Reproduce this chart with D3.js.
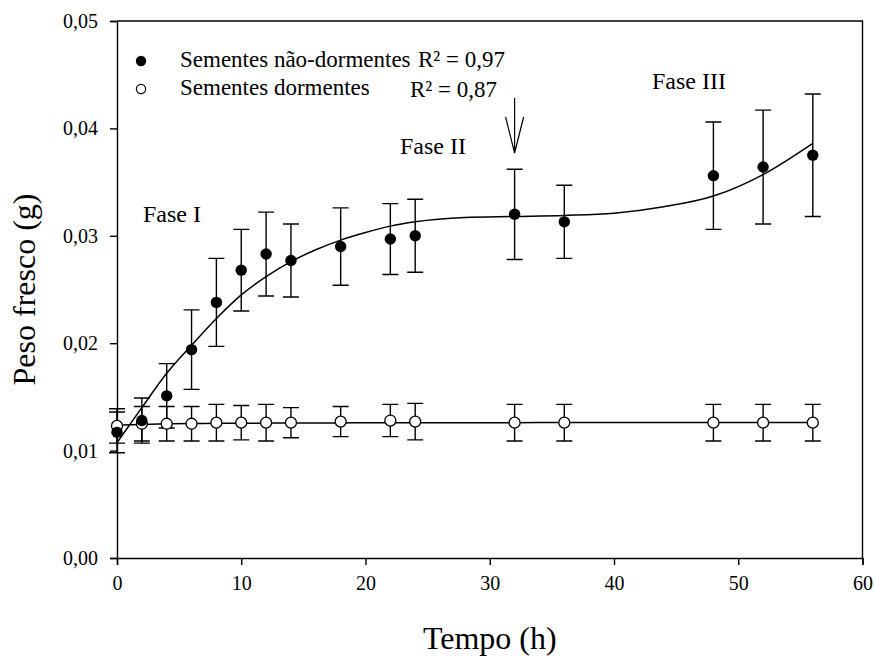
<!DOCTYPE html>
<html>
<head>
<meta charset="utf-8">
<script src="https://cdn.jsdelivr.net/npm/d3@7"></script>
<style>
  html, body { margin: 0; padding: 0; background: #fff; }
  svg text { font-family: "Liberation Serif", "Times New Roman", serif; fill: #000; }
</style>
</head>
<body>
<svg id="chart" width="875" height="657"></svg>
<script>
// Sampling times (h)
const tempo = [0, 2, 4, 6, 8, 10, 12, 14, 18, 22, 24, 32, 36, 48, 52, 56];

// Non-dormant seeds: mean fresh weight (g) and standard deviation
const naoDormentes = [0.0117, 0.0128, 0.0151, 0.0194, 0.0238, 0.0268, 0.0283, 0.0277,
                      0.0290, 0.0297, 0.0300, 0.0320, 0.0313, 0.0356, 0.0364, 0.0375];
const naoDormentesDP = [0.0019, 0.0021, 0.0030, 0.0037, 0.0041, 0.0038, 0.0039, 0.0034,
                        0.0036, 0.0033, 0.0034, 0.0042, 0.0034, 0.0050, 0.0053, 0.0057];

// Dormant seeds: mean fresh weight (g) and standard deviation
const dormentes = [0.0123, 0.0125, 0.0125, 0.0125, 0.0126, 0.0126, 0.0126, 0.0126,
                   0.0127, 0.0128, 0.0127, 0.0126, 0.0126, 0.0126, 0.0126, 0.0126];
const dormentesDP = [0.0016, 0.0016, 0.0016, 0.0016, 0.0017, 0.0016, 0.0017, 0.0014,
                     0.0014, 0.0015, 0.0017, 0.0017, 0.0017, 0.0017, 0.0017, 0.0017];

// Fitted regression curves (time, predicted weight)
const ajusteTempo = [0, 2, 4, 6, 8, 10, 12, 14, 16, 18, 20, 22, 24, 28, 32, 36, 40, 44, 48, 52, 56];
const ajusteNaoDormentes = [0.01074, 0.0140, 0.0172, 0.0198, 0.0223, 0.0245, 0.0262, 0.0276,
                            0.0287, 0.0296, 0.0303, 0.0309, 0.0313, 0.0317, 0.0318, 0.0319,
                            0.0321, 0.0327, 0.0337, 0.0357, 0.0386];
const ajusteDormentes = [0.01236, 0.01244, 0.01249, 0.01252, 0.01254, 0.01255, 0.01256, 0.01257,
                         0.01258, 0.01258, 0.01259, 0.01259, 0.01259, 0.01260, 0.01260, 0.01261,
                         0.01261, 0.01261, 0.01262, 0.01262, 0.01262];

// Axis ticks
const xTicks = [0, 10, 20, 30, 40, 50, 60];
const yTicks = [0, 0.01, 0.02, 0.03, 0.04, 0.05];

const svg = d3.select("#chart");
const plotLeft = 117, plotRight = 862.5, plotTop = 21, plotBottom = 558;

const x = d3.scaleLinear().domain([0, 60]).range([plotLeft, plotRight]);
const y = d3.scaleLinear().domain([0, 0.05]).range([plotBottom, plotTop]);

const ptBR = d3.formatLocale({ decimal: ",", thousands: ".", grouping: [3], currency: ["R$", ""] });
const fmtY = ptBR.format(".2f");

// Frame (top and right edges)
svg.append("path")
  .attr("d", `M${plotLeft},${plotTop}H${plotRight}V${plotBottom}`)
  .attr("fill", "none").attr("stroke", "#000").attr("stroke-width", 1.4);

// Axes
const gx = svg.append("g").attr("transform", `translate(0,${plotBottom})`)
  .call(d3.axisBottom(x).tickValues(xTicks).tickSizeOuter(0).tickSize(7).tickPadding(11));
const gy = svg.append("g").attr("transform", `translate(${plotLeft},0)`)
  .call(d3.axisLeft(y).tickValues(yTicks).tickFormat(fmtY).tickSizeOuter(0).tickSize(7).tickPadding(12));
[gx, gy].forEach(g => {
  g.select(".domain").attr("stroke", "#000").attr("stroke-width", 1.4);
  g.selectAll(".tick line").attr("stroke", "#000").attr("stroke-width", 1.4);
  g.selectAll(".tick text").attr("font-family", "Liberation Serif").attr("font-size", 20).attr("fill", "#000");
});
gx.selectAll(".tick text").attr("dy", "0.71em");

// Axis titles
svg.append("text").attr("x", (plotLeft + plotRight) / 2).attr("y", 649)
  .attr("text-anchor", "middle").attr("font-size", 32).text("Tempo (h)");
svg.append("text")
  .attr("transform", `translate(35,${(plotTop + plotBottom) / 2}) rotate(-90)`)
  .attr("text-anchor", "middle").attr("font-size", 32).text("Peso fresco (g)");

// Fitted curves
const line = d3.line().x(d => x(d[0])).y(d => y(d[1])).curve(d3.curveMonotoneX);
svg.append("path")
  .attr("d", line(ajusteTempo.map((t, i) => [t, ajusteDormentes[i]])))
  .attr("fill", "none").attr("stroke", "#000").attr("stroke-width", 1.5);
svg.append("path")
  .attr("d", line(ajusteTempo.map((t, i) => [t, ajusteNaoDormentes[i]])))
  .attr("fill", "none").attr("stroke", "#000").attr("stroke-width", 1.5);

// Error bars with caps
function errorBars(means, sds) {
  const g = svg.append("g").attr("stroke", "#000").attr("stroke-width", 1.4).attr("fill", "none");
  tempo.forEach((t, i) => {
    const cx = x(t), y1 = y(means[i] + sds[i]), y0 = y(means[i] - sds[i]);
    g.append("path").attr("d", `M${cx},${y1}V${y0}M${cx - 8},${y1}H${cx + 8}M${cx - 8},${y0}H${cx + 8}`);
  });
}
errorBars(dormentes, dormentesDP);
errorBars(naoDormentes, naoDormentesDP);

// Points
svg.append("g").selectAll("circle").data(tempo).join("circle")
  .attr("cx", d => x(d)).attr("cy", (d, i) => y(dormentes[i])).attr("r", 5.5)
  .attr("fill", "#fff").attr("stroke", "#000").attr("stroke-width", 1.3);
svg.append("g").selectAll("circle").data(tempo).join("circle")
  .attr("cx", d => x(d)).attr("cy", (d, i) => y(naoDormentes[i])).attr("r", 5.7)
  .attr("fill", "#000");

// Legend
svg.append("circle").attr("cx", 141).attr("cy", 61).attr("r", 5.2).attr("fill", "#000");
svg.append("circle").attr("cx", 141).attr("cy", 89).attr("r", 4.6)
  .attr("fill", "#fff").attr("stroke", "#000").attr("stroke-width", 1.2);
svg.append("text").attr("x", 180).attr("y", 67).attr("font-size", 23).text("Sementes não-dormentes");
svg.append("text").attr("x", 180).attr("y", 95).attr("font-size", 23).text("Sementes dormentes");
svg.append("text").attr("x", 418).attr("y", 67).attr("font-size", 23).text("R² = 0,97");
svg.append("text").attr("x", 410).attr("y", 97).attr("font-size", 23).text("R² = 0,87");

// Phase labels
svg.append("text").attr("x", 143).attr("y", 222).attr("font-size", 24).text("Fase I");
svg.append("text").attr("x", 400).attr("y", 154).attr("font-size", 24).text("Fase II");
svg.append("text").attr("x", 652).attr("y", 89).attr("font-size", 24).text("Fase III");

// Arrow marking the end of phase II
const ax = x(32), aTop = 98, aTip = 153, aArm = 117;
svg.append("path")
  .attr("d", `M${ax},${aTop}V${aTip}M${ax - 9},${aArm}L${ax},${aTip}L${ax + 9},${aArm}`)
  .attr("fill", "none").attr("stroke", "#000").attr("stroke-width", 1.2);
</script>
</body>
</html>
